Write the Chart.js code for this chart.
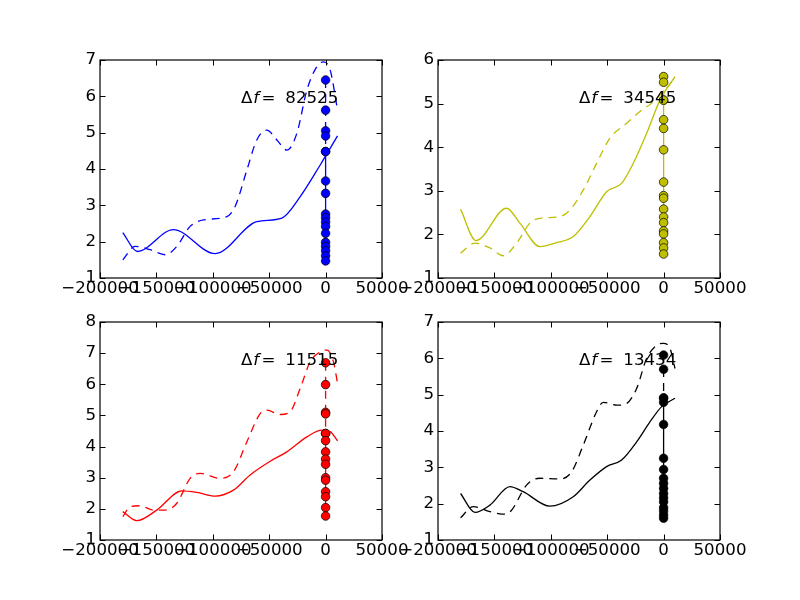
<!DOCTYPE html>
<html><head><meta charset="utf-8">
<script src="https://cdn.jsdelivr.net/npm/chart.js@4.4.0/dist/chart.umd.min.js"></script>
<style>
html,body{margin:0;padding:0;background:#fff;}
#wrap{position:relative;width:800px;height:600px;background:#fff;overflow:hidden;}
canvas{position:absolute;left:0;top:0;}
</style></head><body>
<div id="wrap">
<canvas id="c0" width="800" height="600"></canvas>
<canvas id="c1" width="800" height="600"></canvas>
<canvas id="c2" width="800" height="600"></canvas>
<canvas id="c3" width="800" height="600"></canvas>
</div>
<script>
// ---- shared axis data ----
const xTicks = [-200000, -150000, -100000, -50000, 0, 50000];
const xMin = -200000, xMax = 50000;

// ---- panel 1 (blue) ----
const p1YTicks = [1, 2, 3, 4, 5, 6, 7];
const p1SolidX = [-179800, -166900, -134900, -97900, -61000, -38800, -22500, -4800, 10600];
const p1SolidY = [2.25, 1.73, 2.33, 1.67, 2.55, 2.65, 3.24, 4.11, 4.91];
const p1DashX = [-179800, -168900, -155600, -142300, -131900, -120100, -108300, -87600, -80200, -69800, -61000, -52100, -43200, -34300, -25500, -16600, -7700, -1800, 4100, 10600];
const p1DashY = [1.5, 1.87, 1.78, 1.64, 1.87, 2.42, 2.6, 2.69, 2.97, 3.97, 4.8, 5.07, 4.8, 4.52, 4.98, 6.17, 6.82, 6.95, 6.72, 5.62];
const p1DotsSolid = [4.48, 3.67, 3.33, 2.76, 2.66, 2.54, 2.42, 2.23, 1.98, 1.87, 1.75, 1.61, 1.47];
const p1DotsDash = [6.45, 5.62, 5.05, 4.91, 4.48];
const p1Label = '82525';

// ---- panel 2 (yellow) ----
const p2YTicks = [1, 2, 3, 4, 5, 6];
const p2SolidX = [-180000, -166400, -139200, -127400, -109700, -94800, -80100, -65300, -50500, -37200, -26900, -15000, -3200, 10100];
const p2SolidY = [2.58, 1.86, 2.6, 2.26, 1.72, 1.81, 1.95, 2.41, 2.98, 3.17, 3.63, 4.32, 5.08, 5.62];
const p2DashX = [-180000, -167300, -154000, -142200, -130300, -118500, -109700, -91900, -83000, -71200, -59400, -47500, -32700, -20900, -9100, 10100];
const p2DashY = [1.57, 1.8, 1.69, 1.51, 1.8, 2.26, 2.37, 2.41, 2.56, 3.02, 3.63, 4.21, 4.55, 4.82, 5.04, 5.58];
const p2DotsSolid = [5.08, 4.63, 4.43, 3.94, 3.2, 2.89, 2.83, 2.58, 2.4, 2.27, 2.08, 2.01, 1.81, 1.69, 1.55];
const p2DotsDash = [5.62, 5.49, 5.08];
const p2Label = '34545';

// ---- panel 3 (red) ----
const p3YTicks = [1, 2, 3, 4, 5, 6, 7, 8];
const p3SolidX = [-179800, -167400, -149700, -127500, -114200, -97900, -81700, -66900, -49100, -34300, -16600, -3300, 4100, 10600];
const p3SolidY = [1.91, 1.62, 1.96, 2.58, 2.53, 2.41, 2.6, 3.09, 3.53, 3.83, 4.31, 4.53, 4.48, 4.18];
const p3DashX = [-179800, -173300, -164500, -152700, -142300, -131900, -120100, -111200, -93500, -81700, -69800, -58000, -52100, -40300, -31400, -22500, -13700, -4800, 1200, 7000, 10600];
const p3DashY = [1.75, 2.07, 2.1, 1.96, 1.96, 2.18, 2.98, 3.14, 2.98, 3.19, 4.15, 5.06, 5.17, 5.03, 5.12, 5.87, 6.72, 7.04, 7.1, 6.72, 6.03];
const p3DotsSolid = [4.42, 4.19, 3.83, 3.6, 3.43, 3.0, 2.92, 2.55, 2.39, 2.04, 1.77];
const p3DotsDash = [6.69, 5.99, 5.1, 5.05, 4.42];
const p3Label = '11515';

// ---- panel 4 (black) ----
const p4YTicks = [1, 2, 3, 4, 5, 6, 7];
const p4SolidX = [-180000, -167300, -154000, -136300, -124500, -100800, -80100, -65300, -50500, -37200, -23900, -12100, -1700, 10100];
const p4SolidY = [2.28, 1.76, 1.96, 2.47, 2.33, 1.93, 2.19, 2.65, 3.02, 3.2, 3.7, 4.25, 4.67, 4.9];
const p4DashX = [-180000, -168800, -154000, -140700, -134800, -121500, -109700, -91900, -81500, -71200, -59400, -53500, -41600, -32700, -23900, -15000, -6100, -300, 5700, 10100];
const p4DashY = [1.61, 1.92, 1.78, 1.71, 1.82, 2.51, 2.7, 2.68, 2.88, 3.61, 4.53, 4.79, 4.71, 4.76, 5.17, 6.0, 6.36, 6.41, 6.27, 5.72];
const p4DotsSolid = [4.91, 4.79, 4.18, 3.25, 2.94, 2.7, 2.56, 2.42, 2.28, 2.16, 2.05, 1.89, 1.8, 1.69, 1.6];
const p4DotsDash = [6.09, 5.7, 4.91];
const p4Label = '13434';

// ---- rendering ----
const FONT = 'DejaVu Sans';
const FS = 16.67;
const Y_AXIS_W = 50, X_AXIS_H = 30;
const fmt = v => String(v).replace('-', '\u2212');

const framePlugin = {
  id: 'frame',
  afterDatasetsDraw(chart, args, opts) {
    const {ctx, chartArea: a} = chart;
    const x = chart.scales.x, y = chart.scales.y;
    ctx.save();
    ctx.strokeStyle = '#000';
    ctx.lineWidth = 1;
    const tl = 5.5;
    ctx.beginPath();
    xTicks.forEach(v => {
      const px = Math.round(x.getPixelForValue(v)) + 0.5;
      ctx.moveTo(px, a.bottom); ctx.lineTo(px, a.bottom - tl);
      ctx.moveTo(px, a.top); ctx.lineTo(px, a.top + tl);
    });
    y.ticks.forEach(t => {
      const py = Math.round(y.getPixelForValue(t.value)) + 0.5;
      ctx.moveTo(a.left, py); ctx.lineTo(a.left + tl, py);
      ctx.moveTo(a.right, py); ctx.lineTo(a.right - tl, py);
    });
    ctx.stroke();
    ctx.lineWidth = 1.2;
    ctx.strokeRect(a.left, a.top, a.right - a.left, a.bottom - a.top);
    // annotation at axes fraction (0.5, 0.8)
    const tx = a.left + 0.5 * (a.right - a.left);
    const ty = a.top + 0.2 * (a.bottom - a.top) - 0.5;
    ctx.fillStyle = '#000';
    ctx.textBaseline = 'alphabetic';
    ctx.textAlign = 'left';
    ctx.font = `${FS}px ${FONT}`;
    ctx.fillText('\u0394', tx, ty);
    ctx.font = `italic ${FS}px ${FONT}`;
    ctx.fillText('f', tx + 12.2, ty);
    ctx.font = `${FS}px ${FONT}`;
    ctx.fillText('=', tx + 20.5, ty);
    ctx.fillText(opts.label, tx + 44.3, ty);
    ctx.restore();
  }
};

function makePanel(canvasId, color, area, yTicks, sx, sy, dx, dy, dotsSolid, dotsDash, label) {
  const toPts = (xs, ys) => xs.map((v, i) => ({x: v, y: ys[i]}));
  const dotPts = ys => ys.map(v => ({x: 0, y: v}));
  const lw = 1.3;
  const dash = [8, 6];
  const dotStyle = {
    pointRadius: 4.3, pointBackgroundColor: color, pointBorderColor: '#000', pointBorderWidth: 0.7,
    borderColor: color, borderWidth: lw, showLine: true, tension: 0
  };
  new Chart(document.getElementById(canvasId), {
    type: 'scatter',
    data: {
      datasets: [
        Object.assign({data: dotPts(dotsSolid), order: 0}, dotStyle),
        Object.assign({data: dotPts(dotsDash), borderDash: dash, order: 1}, dotStyle),
        {data: toPts(sx, sy), showLine: true, pointRadius: 0, borderColor: color, borderWidth: lw,
         cubicInterpolationMode: 'monotone', order: 2},
        {data: toPts(dx, dy), showLine: true, pointRadius: 0, borderColor: color, borderWidth: lw,
         borderDash: dash, cubicInterpolationMode: 'monotone', order: 3}
      ]
    },
    options: {
      responsive: false, animation: false, devicePixelRatio: 1,
      layout: {padding: {left: area.left - Y_AXIS_W, right: 800 - area.right, top: area.top, bottom: 600 - area.bottom - X_AXIS_H}},
      plugins: {legend: {display: false}, tooltip: {enabled: false}, title: {display: false}, frame: {label}},
      scales: {
        x: {
          type: 'linear', position: 'bottom', min: xMin, max: xMax,
          grid: {display: false, drawTicks: false}, border: {display: false},
          ticks: {autoSkip: false, maxRotation: 0, minRotation: 0, padding: 1, color: '#000',
                  font: {family: FONT, size: FS}, callback: v => fmt(v)},
          afterBuildTicks: s => { s.ticks = xTicks.map(v => ({value: v})); },
          afterFit: s => { s.height = X_AXIS_H; s.paddingLeft = 0; s.paddingRight = 0; s.paddingTop = 0; s.paddingBottom = 0; }
        },
        y: {
          type: 'linear', position: 'left', min: yTicks[0], max: yTicks[yTicks.length - 1],
          grid: {display: false, drawTicks: false}, border: {display: false},
          ticks: {padding: 4, color: '#000', font: {family: FONT, size: FS}, callback: v => fmt(v)},
          afterBuildTicks: s => { s.ticks = yTicks.map(v => ({value: v})); },
          afterFit: s => { s.width = Y_AXIS_W; s.paddingLeft = 0; s.paddingRight = 0; s.paddingTop = 0; s.paddingBottom = 0; }
        }
      }
    },
    plugins: [framePlugin]
  });
}

makePanel('c0', '#0000ff', {left: 100, right: 382, top: 60, bottom: 278}, p1YTicks, p1SolidX, p1SolidY, p1DashX, p1DashY, p1DotsSolid, p1DotsDash, p1Label);
makePanel('c1', '#bfbf00', {left: 438, right: 720, top: 60, bottom: 278}, p2YTicks, p2SolidX, p2SolidY, p2DashX, p2DashY, p2DotsSolid, p2DotsDash, p2Label);
makePanel('c2', '#ff0000', {left: 100, right: 382, top: 322, bottom: 540}, p3YTicks, p3SolidX, p3SolidY, p3DashX, p3DashY, p3DotsSolid, p3DotsDash, p3Label);
makePanel('c3', '#000000', {left: 438, right: 720, top: 322, bottom: 540}, p4YTicks, p4SolidX, p4SolidY, p4DashX, p4DashY, p4DotsSolid, p4DotsDash, p4Label);
</script>
</body></html>
